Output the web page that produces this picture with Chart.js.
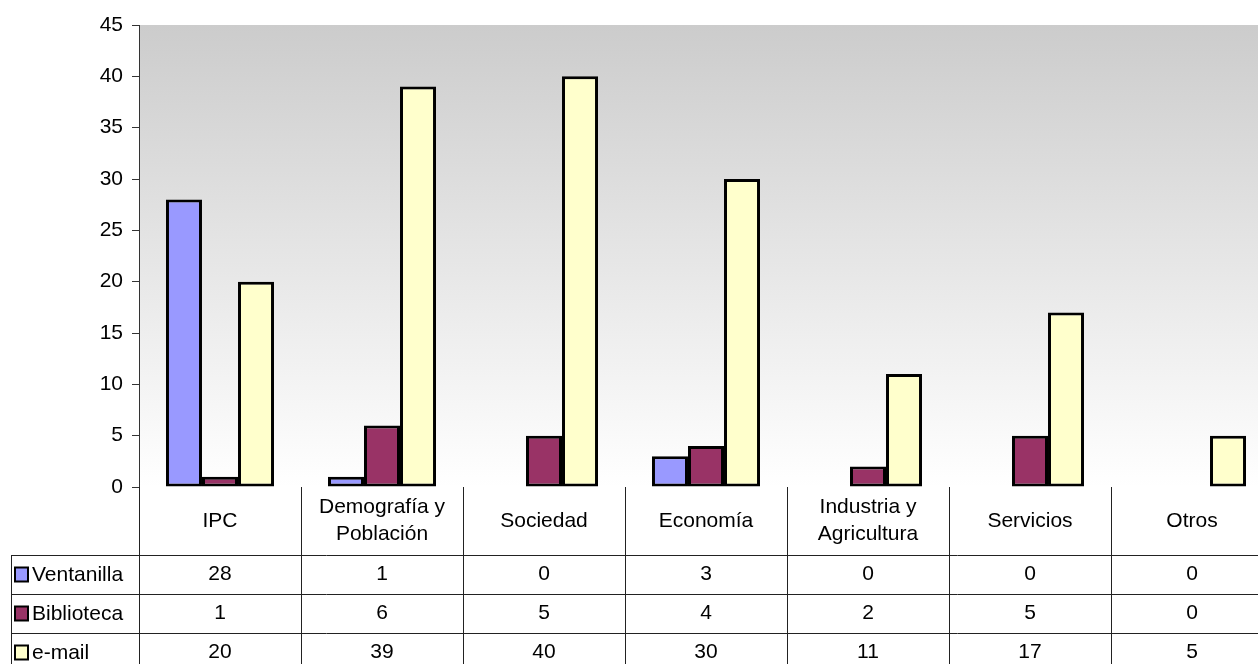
<!DOCTYPE html>
<html>
<head>
<meta charset="utf-8">
<script src="https://cdn.jsdelivr.net/npm/chart.js@4"></script>
<style>
  html, body { margin: 0; padding: 0; background: #fff; overflow: hidden; }
  #wrap { width: 1273px; height: 664px; position: relative; }
</style>
</head>
<body>
<div id="wrap"><canvas id="barChart"></canvas></div>
<script>
const categories = ['IPC', ['Demografía y', 'Población'], 'Sociedad', 'Economía', ['Industria y', 'Agricultura'], 'Servicios', 'Otros'];
const seriesNames = ['Ventanilla', 'Biblioteca', 'e-mail'];
const ventanilla = [28, 1, 0, 3, 0, 0, 0];
const biblioteca = [1, 6, 5, 4, 2, 5, 0];
const email = [20, 39, 40, 30, 11, 17, 5];
const seriesColors = ['#9999FF', '#993366', '#FFFFCC'];

const FONT = '"Liberation Sans", Arial, sans-serif';
const FONT_SIZE = 21;

// grey-to-white fill behind the bars
const plotBackground = {
  id: 'plotBackground',
  beforeDraw(chart) {
    const { ctx, chartArea: a } = chart;
    const g = ctx.createLinearGradient(0, a.top, 0, a.bottom);
    g.addColorStop(0, '#cccccc');
    g.addColorStop(1, '#ffffff');
    ctx.save();
    ctx.fillStyle = g;
    ctx.fillRect(a.left, a.top, a.right - a.left, a.bottom - a.top);
    ctx.restore();
  }
};

// data table under the plot, columns taken from the x scale
const dataTable = {
  id: 'dataTable',
  afterDraw(chart) {
    const { ctx, chartArea: a } = chart;
    const x = chart.scales.x;
    const n = categories.length;
    const colW = (a.right - a.left) / n;
    const headTop = a.bottom;
    const headBottom = headTop + 68;
    const rowH = 39;
    const tableLeft = 11;
    const bottom = headBottom + rowH * 3;

    ctx.save();
    ctx.strokeStyle = '#222';
    ctx.lineWidth = 1;

    ctx.beginPath();
    for (let i = 0; i <= n; i++) {
      const px = Math.round(a.left + i * colW) + 0.5;
      ctx.moveTo(px, headTop);
      ctx.lineTo(px, bottom);
    }
    ctx.moveTo(tableLeft + 0.5, headBottom);
    ctx.lineTo(tableLeft + 0.5, bottom);
    for (let r = 0; r <= 3; r++) {
      const py = Math.round(headBottom + r * rowH) + 0.5;
      ctx.moveTo(tableLeft, py);
      ctx.lineTo(a.right, py);
    }
    ctx.stroke();

    ctx.fillStyle = '#000';
    ctx.font = FONT_SIZE + 'px ' + FONT;
    ctx.textAlign = 'center';
    ctx.textBaseline = 'middle';

    categories.forEach((c, i) => {
      const cx = x.getPixelForValue(i);
      const lines = Array.isArray(c) ? c : [c];
      const mid = (headTop + headBottom) / 2;
      lines.forEach((l, k) => {
        ctx.fillText(l, cx, mid + (k - (lines.length - 1) / 2) * 27);
      });
    });

    const rows = [ventanilla, biblioteca, email];
    rows.forEach((vals, r) => {
      const cy = headBottom + r * rowH + rowH / 2;
      vals.forEach((v, i) => {
        ctx.fillText(String(v), x.getPixelForValue(i), cy);
      });
      ctx.fillStyle = seriesColors[r];
      ctx.fillRect(15, cy - 7, 13, 14);
      ctx.lineWidth = 2;
      ctx.strokeStyle = '#000';
      ctx.strokeRect(15, cy - 7, 13, 14);
      ctx.fillStyle = '#000';
      ctx.textAlign = 'left';
      ctx.fillText(seriesNames[r], 32, cy + 1);
      ctx.textAlign = 'center';
    });
    ctx.restore();
  }
};

const barData = {
  labels: categories,
  datasets: [ventanilla, biblioteca, email].map((d, i) => ({
    label: seriesNames[i],
    data: d,
    backgroundColor: seriesColors[i],
    borderColor: '#000',
    borderWidth: 3,
    borderSkipped: false,
    categoryPercentage: 0.667,
    barPercentage: 1
  }))
};

const barConfig = {
  type: 'bar',
  data: barData,
  plugins: [plotBackground, dataTable],
  options: {
    responsive: true,
    maintainAspectRatio: false,
    animation: false,
    layout: { padding: { top: 25, bottom: 177, left: 0, right: 0 } },
    plugins: {
      legend: { display: false },
      tooltip: { enabled: false },
      title: { display: false }
    },
    scales: {
      x: {
        display: false,
        offset: true
      },
      y: {
        min: 0,
        max: 45,
        ticks: {
          stepSize: 5,
          color: '#000',
          padding: 9,
          font: { family: FONT, size: FONT_SIZE }
        },
        grid: {
          drawOnChartArea: false,
          drawTicks: true,
          tickLength: 7,
          color: '#333'
        },
        border: { display: true, color: '#333', width: 1 },
        afterFit(scale) { scale.width = 139; }
      }
    }
  }
};

const myBarChart = new Chart(document.getElementById('barChart'), barConfig);
</script>
</body>
</html>
